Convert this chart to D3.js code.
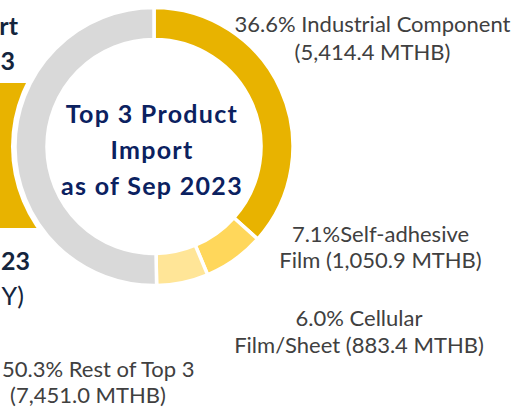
<!DOCTYPE html>
<html>
<head>
<meta charset="utf-8">
<script src="https://cdn.jsdelivr.net/npm/d3@7"></script>
<style>
  body { margin: 0; background: #fff; }
  svg { display: block; }
</style>
</head>
<body>
<div id="graph1"></div>
<script>
// slices, clockwise from 12 o'clock
var shares = [36.6, 7.1, 6.0, 50.3]
var values = [5414.4, 1050.9, 883.4, 7451.0]
var nameTop = ["Industrial Component", "Self-adhesive", "Cellular", "Rest of Top 3"]
var nameBottom = ["", "Film ", "Film/Sheet ", ""]
var nameGap = [" ", "", " ", " "]
var colors = ["#E8B300", "#FFD75B", "#FFE597", "#D9D9D9"]
var centerTitle = ["Top 3 Product", "Import", "as of Sep 2023"]
// pieces of the neighbouring panel cut off at the left edge
var sideBold = ["rt", "3", "23"]
var sideNormal = ["Y)"]

function draw_donut(){
    var width = 518
    var height = 411
    var cx = 154, cy = 146.5
    var outer = 139, inner = 107

    var svg = d3.select("#graph1").append("svg")
      .attr("width", width)
      .attr("height", height)

    // left panel remnants
    svg.append("rect")
      .attr("x", -10).attr("y", 83)
      .attr("width", 80).attr("height", 145)
      .attr("fill", colors[0])

    var sideY = [35, 70, 270]
    var sideX = [18, 15, 30]
    svg.selectAll(".sideb")
      .data(sideBold)
    .enter().append("text")
      .attr("x", function(d, i){ return sideX[i] })
      .attr("y", function(d, i){ return sideY[i] })
      .attr("text-anchor", "end")
      .style("font-family", "Lato, 'Open Sans', sans-serif")
      .style("font-weight", "bold")
      .style("font-size", "25px")
      .style("fill", "#14253D")
      .text(function(d){ return d })

    svg.append("text")
      .attr("x", 24).attr("y", 305)
      .attr("text-anchor", "end")
      .style("font-family", "Lato, 'Open Sans', sans-serif")
      .style("font-size", "25px")
      .style("fill", "#14253D")
      .text(sideNormal[0])

    var g = svg.append("g")
      .attr("transform", "translate(" + cx + "," + cy + ")")

    g.append("circle")
      .attr("r", outer + 4)
      .attr("fill", "#fff")

    var pie = d3.pie().sort(null).value(function(d){ return d })
    var arc = d3.arc().innerRadius(inner).outerRadius(outer)

    g.selectAll(".slice")
      .data(pie(shares))
    .enter().append("path")
      .attr("class", "slice")
      .attr("d", arc)
      .attr("fill", function(d, i){ return colors[i] })
      .attr("stroke", "#fff")
      .attr("stroke-width", 3.5)

    // title in the hole
    g.selectAll(".title")
      .data(centerTitle)
    .enter().append("text")
      .attr("x", -2)
      .attr("y", function(d, i){ return -23.5 + i * 36 })
      .attr("text-anchor", "middle")
      .style("font-family", "Lato, 'Open Sans', sans-serif")
      .style("font-weight", "bold")
      .style("font-size", "25px")
      .style("letter-spacing", "1.3px")
      .style("fill", "#0B2160")
      .text(function(d){ return d })

    // slice labels
    var fmt = d3.format(",.1f")
    var labelPos = [[372.5, 32, 28], [380.5, 242, 26], [359, 326, 27], [88, 377, 26]]
    for (var i = 0; i < shares.length; i++){
        var l1, l2
        var money = "(" + fmt(values[i]) + " MTHB)"
        l1 = shares[i].toFixed(1) + "%" + nameGap[i] + nameTop[i]
        l2 = nameBottom[i] + money
        var t = svg.append("text")
          .attr("text-anchor", "middle")
          .style("font-family", "Lato, 'Open Sans', sans-serif")
          .style("font-size", "22px")
          .style("fill", "#404040")
        var s1 = t.append("tspan").attr("x", labelPos[i][0]).attr("y", labelPos[i][1]).text(l1)
        // first line of the left label starts at the edge so it stays in view
        if (i == 3) s1.attr("x", 2).attr("text-anchor", "start")
        t.append("tspan").attr("x", labelPos[i][0]).attr("y", labelPos[i][1] + labelPos[i][2]).text(l2)
    }
}

draw_donut()
</script>
</body>
</html>
